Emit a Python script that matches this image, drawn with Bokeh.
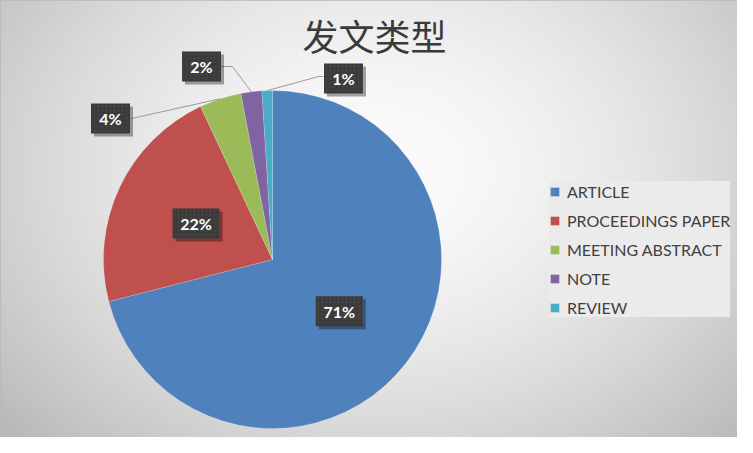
import numpy as np
from bokeh.plotting import figure
from bokeh.models import ColumnDataSource, Range1d, Label
from bokeh.embed import file_html
from bokeh.resources import INLINE
from bokeh.core.properties import value

# ---- data ----
categories = ["ARTICLE", "PROCEEDINGS PAPER", "MEETING ABSTRACT", "NOTE", "REVIEW"]
percent = [71, 22, 4, 2, 1]
pct_labels = ["71%", "22%", "4%", "2%", "1%"]
colors = ["#4F81BD", "#C0504D", "#9BBB59", "#8064A2", "#4BACC6"]
title_text = "发文类型"

# ---- layout helpers (page pixels -> data units, 1 unit = 1 px) ----
W, H = 737, 437
def px(x):
    return x
def py(y):
    return H - y

CX, CY, R = px(272), py(259), 169

fr = np.array(percent, dtype=float) / sum(percent)
cum = np.concatenate([[0.0], np.cumsum(fr)])
start = np.pi / 2 - cum[:-1] * 2 * np.pi
end = np.pi / 2 - cum[1:] * 2 * np.pi
mid = (start + end) / 2

p = figure(width=W, height=H, x_range=Range1d(0, W), y_range=Range1d(0, H),
           output_backend="svg", toolbar_location=None, min_border=0)
p.axis.visible = False
p.xgrid.visible = False
p.ygrid.visible = False
p.outline_line_color = "#b8b8b8"
p.background_fill_color = "#e4e4e4"
p.border_fill_color = "#e4e4e4"

# background radial gradient (style only)
yy, xx = np.mgrid[0:H, 0:W]
page_x = xx
page_y = H - yy
d = np.sqrt(((page_x - 380) / 430.0) ** 2 + ((page_y - 170) / 330.0) ** 2)
g = np.clip(252 - 52 * np.clip(d, 0, 1.3) ** 1.6, 0, 255).astype(np.uint32)
img = (255 << 24) | (g << 16) | (g << 8) | g
p.image_rgba(image=[img.astype(np.uint32)], x=0, y=0, dw=W, dh=H)

# ---- pie ----
src = ColumnDataSource(dict(cat=categories, pct=percent, start=start, end=end, color=colors))
p.wedge(x=CX, y=CY, radius=R, start_angle="start", end_angle="end", direction="clock",
        fill_color="color", line_color="white", line_width=0.5, line_alpha=0.35,
        legend_field="cat", source=src)

# ---- data labels ----
inside = [0, 1]
outer_pos = {2: (110, 118), 3: (201, 66), 4: (343, 78)}
lx, ly, bw = [], [], []
for i in range(len(percent)):
    if i in inside:
        lx.append(CX + 0.5 * R * np.cos(mid[i]))
        ly.append(CY + 0.5 * R * np.sin(mid[i]))
    else:
        ox, oy = outer_pos[i]
        lx.append(px(ox))
        ly.append(py(oy))
    bw.append(47 if len(pct_labels[i]) > 2 else 39)

# leader lines for outer labels
edge = {i: (CX + R * np.cos(mid[i]), CY + R * np.sin(mid[i])) for i in outer_pos}
xs = [[px(131), edge[2][0]],
      [px(220), px(232), edge[3][0]],
      [px(323), px(318), edge[4][0]]]
ys = [[py(118), edge[2][1]],
      [py(66), py(66), edge[3][1]],
      [py(76), py(76), edge[4][1]]]
p.multi_line(xs=xs, ys=ys, line_color="#9a9a9a", line_width=1)

lsrc = ColumnDataSource(dict(x=lx, y=ly, w=bw, t=pct_labels,
                             sx=[v + 3 for v in lx], sy=[v - 3 for v in ly]))
p.rect(x="sx", y="sy", width="w", height=30, fill_color="black", fill_alpha=0.35,
       line_color=None, source=lsrc)
p.rect(x="x", y="y", width="w", height=30, fill_color="#3a3a3a", line_color=None,
       hatch_pattern="dot", hatch_color="#555555", hatch_scale=4, hatch_alpha=0.5,
       source=lsrc)
p.text(x="x", y="y", text="t", text_align="center", text_baseline="middle",
       text_font=value("Lato"), text_font_style="bold", text_font_size="16px",
       text_color="white", source=lsrc)

# ---- title ----
p.add_layout(Label(x=px(374), y=py(34), text=title_text, text_align="center",
                   text_baseline="middle", text_font="Noto Sans CJK SC",
                   text_font_size="36px", text_color="#3a3a3a"))

# ---- legend ----
lg = p.legend[0]
lg.location = (px(549), H - 317)
lg.background_fill_color = "#ebebeb"
lg.background_fill_alpha = 1.0
lg.border_line_color = None
lg.padding = 8
lg.spacing = 9
lg.label_height = 20
lg.glyph_height = 11
lg.glyph_width = 11
lg.label_standoff = 7
lg.label_text_font = "Lato"
lg.label_text_font_size = "16px"
lg.label_text_color = "#404040"
lg.margin = 0

open("out.html", "w").write(file_html(p, INLINE))
